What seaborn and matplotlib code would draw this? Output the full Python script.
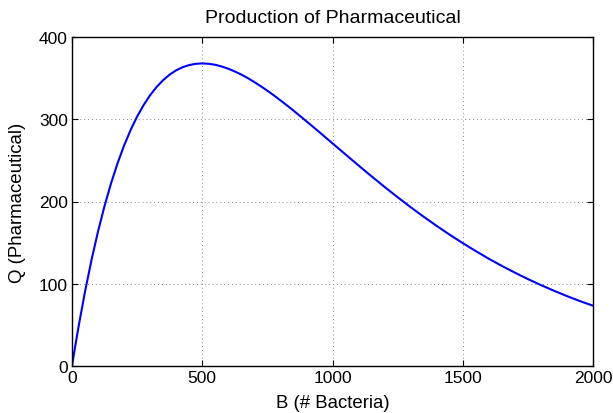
import matplotlib
matplotlib.use("Agg")
import matplotlib.pyplot as plt
import seaborn as sns
import pandas as pd

bacteria = [0, 10, 25, 50, 75, 100, 125, 150, 175, 200, 225, 250, 275, 300, 325,
            350, 375, 400, 425, 450, 475, 500, 525, 550, 575, 600, 625, 650, 675,
            700, 725, 750, 775, 800, 825, 850, 875, 900, 925, 950, 975, 1000,
            1050, 1100, 1150, 1200, 1250, 1300, 1350, 1400, 1450, 1500, 1550,
            1600, 1650, 1700, 1750, 1800, 1850, 1900, 1950, 2000]
pharma = [0.0, 19.6, 47.6, 90.5, 129.1, 163.7, 194.7, 222.2, 246.6, 268.1, 286.9,
          303.3, 317.3, 329.3, 339.3, 347.6, 354.3, 359.5, 363.3, 365.9, 367.4,
          367.9, 367.4, 366.2, 364.1, 361.4, 358.1, 354.3, 350.0, 345.2, 340.1,
          334.7, 329.0, 323.0, 316.9, 310.6, 304.1, 297.5, 290.9, 284.2, 277.4,
          270.7, 257.2, 243.8, 230.6, 217.7, 205.2, 193.1, 181.5, 170.3, 159.6,
          149.4, 139.7, 130.4, 121.7, 113.5, 105.7, 98.4, 91.5, 85.0, 78.9, 73.3]
x_ticks = [0, 500, 1000, 1500, 2000]
y_ticks = [0, 100, 200, 300, 400]

sns.set_style("white")
plt.rcParams['font.family'] = ['Liberation Sans', 'DejaVu Sans']
plt.rcParams['text.color'] = 'black'
plt.rcParams['axes.labelcolor'] = 'black'

df = pd.DataFrame({"B": bacteria, "Q": pharma})

fig = plt.figure(figsize=(6.13, 4.14), dpi=100)
ax = fig.add_axes([72/613, 1-367/414, (593-72)/613, (367-38)/414])
sns.lineplot(data=df, x="B", y="Q", ax=ax, color="#0000ff", linewidth=1.5)

ax.set_xlim(0, 2000)
ax.set_ylim(0, 400)
ax.set_xticks(x_ticks)
ax.set_yticks(y_ticks)
ax.tick_params(direction="in", length=4, width=0.8, labelsize=12.5, colors="black",
               top=True, right=True, bottom=True, left=True, pad=3)
ax.grid(True, linestyle=(0, (1, 3)), color="#888888", linewidth=0.7)
for s in ax.spines.values():
    s.set_visible(True)
    s.set_color("black")
    s.set_linewidth(1.0)
ax.set_xlabel("B (# Bacteria)", fontsize=13.4, labelpad=6, color="black")
ax.set_ylabel("Q (Pharmaceutical)", fontsize=13.4, labelpad=9, color="black")
ax.set_title("Production of Pharmaceutical", fontsize=14, pad=11, color="black")

fig.savefig("out.png", dpi=100)
